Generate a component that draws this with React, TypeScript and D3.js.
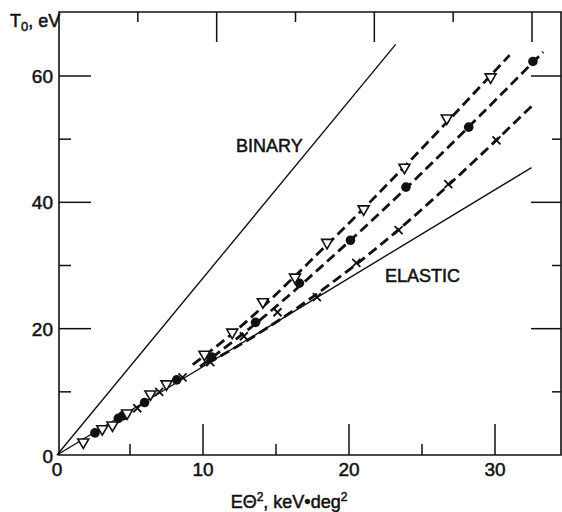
import React from "react";
import * as d3 from "d3";

// Data (x: Eθ² keV·deg², y: T0 eV)
const trianglePts: [number, number][] = [
  [1.8, 1.9], [3.1, 4.0], [3.8, 4.6], [4.8, 6.5], [6.4, 9.5], [7.5, 11.1],
  [10.1, 15.8], [12.0, 19.3], [14.1, 24.1], [16.3, 28.0], [18.5, 33.5],
  [21.0, 38.8], [23.8, 45.4], [26.7, 53.2], [29.7, 59.7],
];
const circlePts: [number, number][] = [
  [2.6, 3.5], [4.2, 5.8], [4.5, 6.2], [6.0, 8.3], [8.2, 11.9], [10.6, 15.5],
  [13.6, 21.0], [16.6, 27.2], [20.1, 34.0], [23.9, 42.4], [28.2, 51.9], [32.6, 62.3],
];
const crossPts: [number, number][] = [
  [5.5, 7.4], [7.0, 10.0], [8.6, 12.3], [10.5, 14.7], [12.8, 18.8], [15.1, 22.6],
  [17.8, 25.0], [20.5, 30.4], [23.4, 35.6], [26.8, 42.9], [30.1, 49.8],
];
const triangleFit: [number, number][] = [[9.3, 14.3], [12.0, 19.2], [18.5, 33.3], [31.0, 63.3]];
const circleFit: [number, number][] = [[9.8, 14.0], [13.6, 20.8], [20.1, 34.0], [33.3, 63.8]];
const crossFit: [number, number][] = [[10.3, 14.5], [13.5, 18.8], [20.5, 30.2], [32.5, 55.2]];
const binaryLine: [number, number][] = [[0, 0], [23.2, 65.0]];
const elasticLine: [number, number][] = [[0, 0], [32.5, 45.5]];

const xMajor = [10, 20, 30];
const xMinor = [5, 15, 25];
const yMajor = [20, 40, 60];
const yMinor = [10, 30, 50];
const xTickLabels = [0, 10, 20, 30];
const yTickLabels = [0, 20, 40, 60];

const W = 562, H = 512;
const FRAME = { left: 59, right: 561, top: 12, bottom: 455 };

export default function App() {
  const x = d3.scaleLinear().domain([0, 30]).range([57, 495]);
  const xTop = d3.scaleLinear().domain([0, 30]).range([59, 532]);
  const y = d3.scaleLinear().domain([0, 60]).range([455, 76]);

  const line = d3.line<[number, number]>().x((d) => x(d[0])).y((d) => y(d[1]));
  const curve = d3
    .line<[number, number]>()
    .x((d) => x(d[0]))
    .y((d) => y(d[1]))
    .curve(d3.curveMonotoneX);

  const font = "'Liberation Sans', Arial, sans-serif";
  const tri = "M-5.5,-4L5.5,-4L0,5.5Z";
  const txt = { fill: "#111", stroke: "#111", strokeWidth: 0.5 };

  return (
    <svg
      width={W}
      height={H}
      style={{ position: "absolute", left: 0, top: 0, background: "#fff" }}
      fontFamily={font}
    >
      <rect width={W} height={H} fill="#fff" />
      {/* frame */}
      <path
        d={`M${FRAME.left},${FRAME.top}H${FRAME.right}V${FRAME.bottom}H${FRAME.left}Z`}
        fill="none"
        stroke="#111"
        strokeWidth={1.6}
      />
      {/* bottom ticks */}
      {xMajor.map((v) => (
        <line key={"bM" + v} x1={x(v)} x2={x(v)} y1={FRAME.bottom} y2={FRAME.bottom - 31} stroke="#111" strokeWidth={1.5} />
      ))}
      {xMinor.map((v) => (
        <line key={"bm" + v} x1={x(v)} x2={x(v)} y1={FRAME.bottom} y2={FRAME.bottom - 11} stroke="#111" strokeWidth={1.5} />
      ))}
      {/* top ticks */}
      {xMajor.map((v) => (
        <line key={"tM" + v} x1={xTop(v)} x2={xTop(v)} y1={FRAME.top} y2={FRAME.top + 30} stroke="#111" strokeWidth={1.5} />
      ))}
      {xMinor.map((v) => (
        <line key={"tm" + v} x1={xTop(v)} x2={xTop(v)} y1={FRAME.top} y2={FRAME.top + 10} stroke="#111" strokeWidth={1.5} />
      ))}
      {/* left ticks */}
      {yMajor.map((v) => (
        <line key={"lM" + v} x1={FRAME.left} x2={FRAME.left + 32} y1={y(v)} y2={y(v)} stroke="#111" strokeWidth={1.5} />
      ))}
      {yMinor.map((v) => (
        <line key={"lm" + v} x1={FRAME.left} x2={FRAME.left + 12} y1={y(v)} y2={y(v)} stroke="#111" strokeWidth={1.5} />
      ))}
      {/* right ticks */}
      {yMajor.map((v) => (
        <line key={"rM" + v} x1={FRAME.right} x2={FRAME.right - 30} y1={y(v)} y2={y(v)} stroke="#111" strokeWidth={1.5} />
      ))}
      {yMinor.map((v) => (
        <line key={"rm" + v} x1={FRAME.right} x2={FRAME.right - 9} y1={y(v)} y2={y(v)} stroke="#111" strokeWidth={1.5} />
      ))}

      {/* tick labels */}
      {xTickLabels.map((v) => (
        <text key={"xl" + v} x={x(v)} y={476} textAnchor="middle" fontSize={19} {...txt}>
          {v}
        </text>
      ))}
      {yTickLabels.map((v) => (
        <text key={"yl" + v} x={53} y={v === 0 ? y(v) + 8 : y(v) + 7} textAnchor="end" fontSize={19} {...txt}>
          {v}
        </text>
      ))}

      {/* axis titles */}
      <text x={10} y={27} fontSize={18} {...txt}>
        T<tspan fontSize={13} dy={4}>0</tspan>
        <tspan dy={-4}>, eV</tspan>
      </text>
      <text x={289} y={508} textAnchor="middle" fontSize={18} {...txt}>
        EΘ<tspan fontSize={12} dy={-7}>2</tspan>
        <tspan dy={7}>, keV•deg</tspan>
        <tspan fontSize={12} dy={-7}>2</tspan>
      </text>

      {/* reference lines */}
      <path d={line(binaryLine) || ""} fill="none" stroke="#111" strokeWidth={1.4} />
      <path d={line(elasticLine) || ""} fill="none" stroke="#111" strokeWidth={1.4} />
      <text x={236} y={152} fontSize={18} {...txt}>BINARY</text>
      <text x={385} y={282} fontSize={18} {...txt}>ELASTIC</text>

      {/* dashed fits */}
      {[triangleFit, circleFit, crossFit].map((f, i) => (
        <path key={"fit" + i} d={curve(f) || ""} fill="none" stroke="#111" strokeWidth={2.8} strokeDasharray="10,5" />
      ))}

      {/* markers */}
      {crossPts.map((d, i) => (
        <g key={"c" + i} transform={`translate(${x(d[0])},${y(d[1])})`} stroke="#111" strokeWidth={1.8}>
          <line x1={-4} y1={-4} x2={4} y2={4} />
          <line x1={-4} y1={4} x2={4} y2={-4} />
        </g>
      ))}
      {circlePts.map((d, i) => (
        <circle key={"o" + i} cx={x(d[0])} cy={y(d[1])} r={4.8} fill="#111" />
      ))}
      {trianglePts.map((d, i) => (
        <path
          key={"t" + i}
          d={tri}
          transform={`translate(${x(d[0])},${y(d[1])})`}
          fill="#fff"
          stroke="#111"
          strokeWidth={1.6}
        />
      ))}
    </svg>
  );
}
